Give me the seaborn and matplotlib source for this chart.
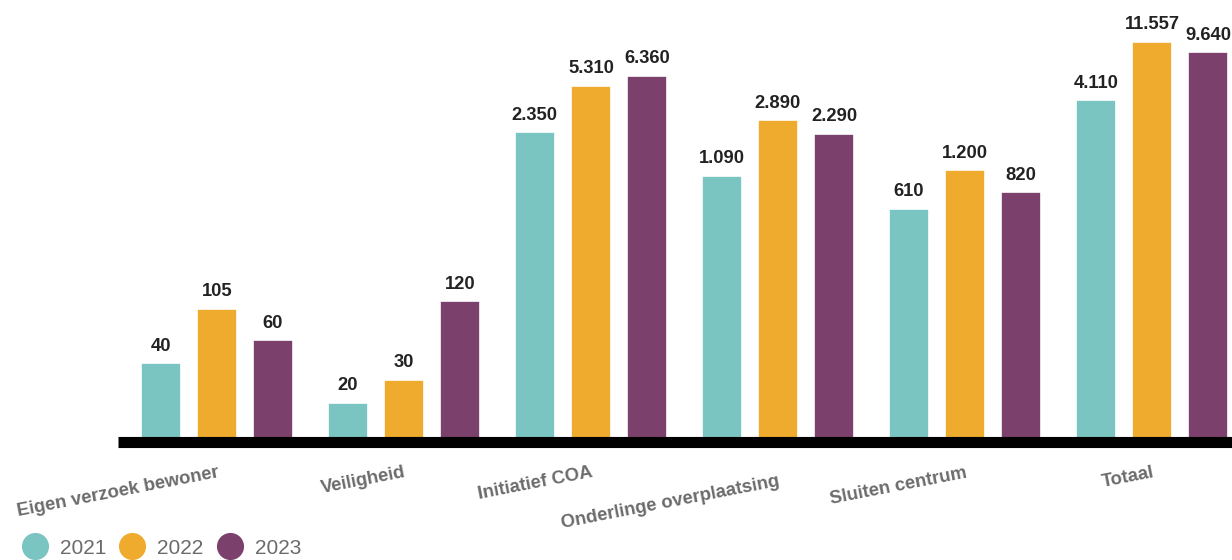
import matplotlib
matplotlib.use("Agg")
import matplotlib.pyplot as plt
import matplotlib.transforms as mtransforms
from matplotlib.lines import Line2D
import seaborn as sns
import pandas as pd

categories = ["Eigen verzoek bewoner", "Veiligheid", "Initiatief COA",
              "Onderlinge overplaatsing", "Sluiten centrum", "Totaal"]
years = ["2021", "2022", "2023"]
values_2021 = [40, 20, 2350, 1090, 610, 4110]
values_2022 = [105, 30, 5310, 2890, 1200, 11557]
values_2023 = [60, 120, 6360, 2290, 820, 9640]
colors = ["#7AC4C1", "#EEAB2D", "#7B406B"]

rows = []
for yr, vals in zip(years, [values_2021, values_2022, values_2023]):
    for c, v in zip(categories, vals):
        rows.append({"cat": c, "year": yr, "value": v})
df = pd.DataFrame(rows)

sns.set_theme(style="white")
plt.rcParams["font.family"] = ["Liberation Sans", "DejaVu Sans"]

fig = plt.figure(figsize=(12.32, 5.6), dpi=100)
ax = fig.add_axes([118 / 1232, 1 - 442 / 560, 1 - 118 / 1232, 442 / 560])
ax.set_yscale("log")

sns.barplot(data=df, x="cat", y="value", hue="year", order=categories,
            hue_order=years, palette=colors, saturation=1, width=0.9, gap=0.287,
            edgecolor="white", linewidth=1.2, ax=ax, legend=False)

def fmt(v):
    return f"{v:,}".replace(",", ".")

for cont in ax.containers:
    vals = [b.get_height() for b in cont]
    ax.bar_label(cont, labels=[fmt(int(round(v))) for v in vals], padding=6,
                 fontsize=13.2, fontweight="bold", color="#222222")

ax.set_ylim(10, 10 ** (1 + 442 / 130.7))
ax.set_xlim(-0.529, 5.428)
ax.set_xlabel("")
ax.set_ylabel("")
ax.set_yticks([])
ax.minorticks_off()
ax.yaxis.set_minor_locator(matplotlib.ticker.NullLocator())
for s in ["top", "right", "left"]:
    ax.spines[s].set_visible(False)
ax.spines["bottom"].set_linewidth(8)
ax.spines["bottom"].set_color("black")
ax.spines["bottom"].set_capstyle("butt")

ax.tick_params(axis="x", length=0, pad=16)
labels = ax.get_xticklabels()
for i, lab in enumerate(labels):
    lab.set_rotation(11)
    lab.set_ha("right")
    lab.set_va("top")
    lab.set_rotation_mode("anchor")
    lab.set_fontsize(13.3)
    lab.set_fontweight("bold")
    lab.set_color("#6b6b6b")
    if i == 3:
        lab.set_transform(lab.get_transform() +
                          mtransforms.ScaledTranslation(0, -9 / 100, fig.dpi_scale_trans))

handles = [Line2D([0], [0], marker="o", linestyle="", markersize=18.5,
                  markerfacecolor=c, markeredgecolor=c) for c in colors]
leg = fig.legend(handles, years, loc="center left",
                 bbox_to_anchor=(21 / 1232, 1 - 548 / 560), ncol=3,
                 frameon=False, fontsize=15, handlelength=1.3,
                 handletextpad=0.55, columnspacing=0.62, borderpad=0,
                 borderaxespad=0)
for t in leg.get_texts():
    t.set_color("#6b6b6b")

fig.savefig("out.png", dpi=100)
